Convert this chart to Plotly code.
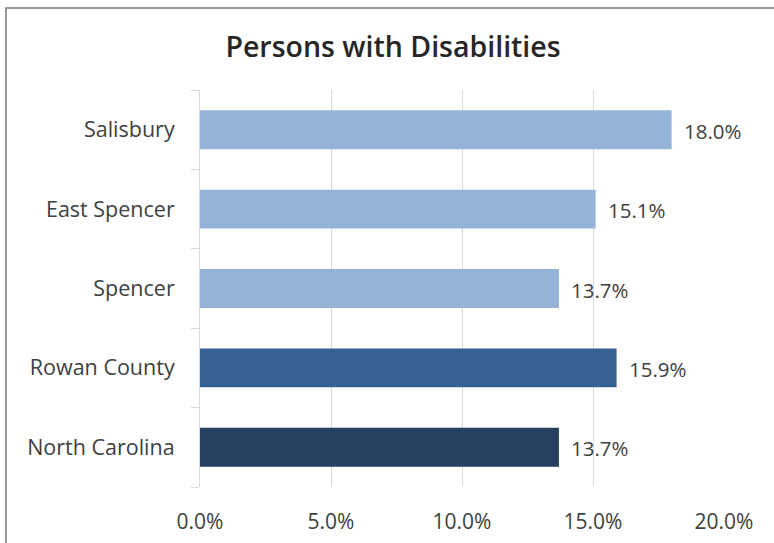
import plotly.graph_objects as go

categories = ["Salisbury", "East Spencer", "Spencer", "Rowan County", "North Carolina"]
values = [18.0, 15.1, 13.7, 15.9, 13.7]
colors = ["#95B3D7", "#95B3D7", "#95B3D7", "#366092", "#254061"]
tick_vals = [0, 5, 10, 15, 20]
tick_text = ["0.0%", "5.0%", "10.0%", "15.0%", "20.0%"]
title = "Persons with Disabilities"

FONT = "Open Sans, Noto Sans, sans-serif"

fig = go.Figure(go.Bar(
    y=categories,
    x=values,
    orientation="h",
    marker=dict(color=colors, line=dict(width=0)),
    width=0.49,
    hoverinfo="skip",
))

for cat, v in zip(categories, values):
    fig.add_annotation(x=v, y=cat, xref="x", yref="y", text=f"{v:.1f}%",
                       showarrow=False, xanchor="left", yanchor="middle",
                       xshift=10, yshift=-1,
                       font=dict(family=FONT, size=20.5, color="#404040"))

L, R, T, B = 200, 50, 90, 56
W, H = 774, 543
pw, ph = W - L - R, H - T - B

fig.update_layout(
    width=W, height=H,
    margin=dict(l=L, r=R, t=T, b=B, autoexpand=False),
    paper_bgcolor="white",
    plot_bgcolor="white",
    showlegend=False,
    title=dict(text=title, x=393 / W, xanchor="center",
               y=1 - 47 / H, yanchor="middle",
               font=dict(family=FONT, size=28.5, color="#262626", weight=600)),
    xaxis=dict(range=[0, 20], tickvals=tick_vals, ticktext=tick_text,
               showgrid=True, gridcolor="#D9D9D9", gridwidth=1,
               zeroline=False, showline=False, ticks="",
               ticklabelstandoff=20, automargin=False,
               tickfont=dict(family=FONT, size=21, color="#404040")),
    yaxis=dict(categoryorder="array", categoryarray=categories[::-1],
               showgrid=False, zeroline=False,
               showline=True, linecolor="#D9D9D9", linewidth=1,
               ticks="outside", tickson="boundaries", ticklen=8, tickcolor="#D9D9D9",
               ticklabelstandoff=20, automargin=False,
               tickfont=dict(family=FONT, size=21.5, color="#404040")),
    bargap=0.5,
    shapes=[dict(type="rect", xref="paper", yref="paper",
                 x0=(6 - L) / pw, x1=(790 - L) / pw,
                 y0=(H - B - 560) / ph, y1=(H - B - 8) / ph,
                 line=dict(color="#767676", width=1.5), fillcolor="rgba(0,0,0,0)",
                 layer="below")],
)

fig.write_html("out.html")
